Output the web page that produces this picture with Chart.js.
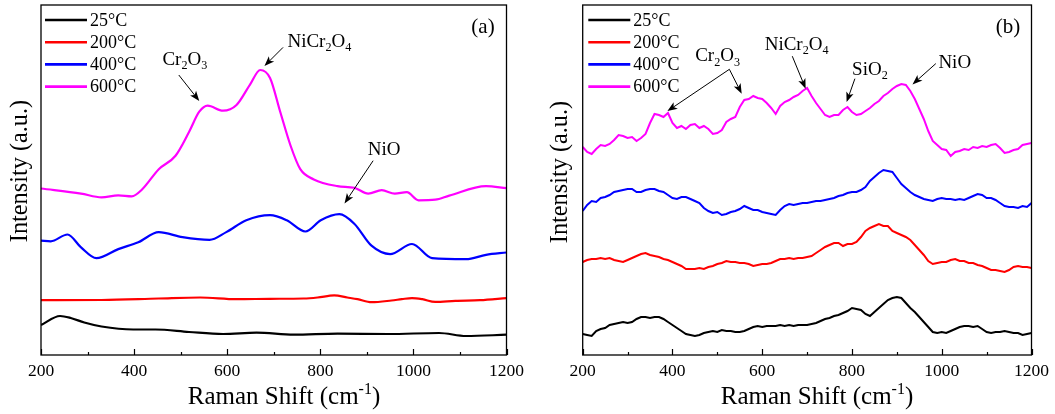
<!DOCTYPE html>
<html>
<head>
<meta charset="utf-8">
<script src="https://cdn.jsdelivr.net/npm/chart.js@4.4.1/dist/chart.umd.min.js"></script>
<style>
  html, body { margin: 0; padding: 0; background: #fff; }
  #wrap { position: relative; width: 1055px; height: 414px; overflow: hidden; }
  #chartA { position: absolute; left: 0; top: 0; }
  #chartB { position: absolute; left: 530px; top: 0; }
</style>
</head>
<body>
<div id="wrap">
  <canvas id="chartA" width="530" height="414"></canvas>
  <canvas id="chartB" width="525" height="414"></canvas>
</div>
<script>
const serif = '"Liberation Serif", "Times New Roman", serif';

// Series names and colours (same for both panels)
const temps = ['25°C', '200°C', '400°C', '600°C'];
const colors = ['#000000', '#ff0000', '#0000ff', '#ff00ff'];

// Raman shift axis ticks
const shiftTicks = [200, 400, 600, 800, 1000, 1200];

// Panel (a): smoothed spectra, [Raman shift, stacked intensity]
const a25 = [[200, 30], [241, 39], [264, 37], [293, 32.5], [330, 28.5], [398, 25.5], [446, 25.5],
  [518, 23], [591, 21], [663, 22.3], [743, 20.3], [837, 21.3], [946, 21], [1055, 22], [1113, 19], [1200, 20.3]];
const a200 = [[200, 54.8], [330, 55], [453, 56.5], [542, 57.5], [620, 55.8], [692, 56.2], [764, 56.5],
  [794, 57.5], [830, 59.6], [858, 57.5], [880, 55.8], [910, 52.8], [953, 54.5], [975, 55.8], [997, 56.9],
  [1019, 55.8], [1047, 53.1], [1090, 54.2], [1143, 54.8], [1200, 56.9]];
const a400 = [[200, 114.4], [221, 113.7], [257, 120.5], [286, 107.6], [319, 96.8], [366, 105.9], [409, 112.7],
  [453, 122.9], [504, 117.8], [562, 115.1], [598, 122.9], [641, 134.7], [692, 139.8], [728, 134.7],
  [768, 123.5], [801, 134.7], [841, 140.8], [873, 131.3], [910, 109.3], [950, 100.9], [997, 111],
  [1040, 96.8], [1113, 95.8], [1156, 100.2], [1200, 102.5]];
const a600 = [[200, 166.5], [286, 161.4], [330, 157.7], [366, 159.7], [395, 158.7], [417, 165.5], [453, 185.8],
  [489, 199.3], [518, 223], [540, 243.3], [558, 249.4], [591, 244.3], [620, 250], [649, 270.4], [671, 285],
  [692, 277], [714, 243], [736, 209.5], [757, 185.8], [786, 175.6], [837, 168.9], [873, 167.2], [903, 161.4],
  [932, 164.8], [960, 161.4], [986, 162.8], [1011, 154.7], [1047, 155.3], [1077, 159.4], [1156, 168.9], [1200, 166.8]];

// Panel (b): raw spectra sampled every 10 cm-1 from 200 to 1200
const shiftB = Array.from({ length: 101 }, (_, i) => 200 + i * 10);
const b25 = [21, 20, 19, 24, 26, 27, 30, 31, 32, 33, 32, 33, 36, 38, 38, 37, 38, 38, 36, 33,
  30, 27, 24, 21, 20, 19, 20, 22, 23, 24, 23, 25, 24, 24, 23, 23, 24, 26, 28, 29,
  28, 29, 29, 29, 30, 29, 30, 29, 30, 30, 30, 31, 32, 34, 36, 37, 39, 40, 42, 44,
  47, 46, 45, 41, 39, 43, 47, 51, 55, 57, 58, 57, 52, 47, 43, 38, 33, 28, 23, 22,
  23, 22, 24, 26, 28, 29, 29, 28, 29, 26, 23, 22, 23, 23, 24, 23, 22, 22, 20, 21, 22];
const b200 = [93, 95, 96, 96, 97, 96, 97, 95, 94, 93, 95, 97, 99, 101, 102, 100, 99, 98, 96, 95,
  93, 91, 89, 86, 86, 86, 87, 86, 88, 89, 91, 92, 94, 93, 93, 92, 92, 91, 89, 90,
  91, 91, 92, 94, 96, 96, 97, 96, 97, 97, 98, 99, 102, 105, 108, 110, 112, 112, 109, 111,
  111, 113, 118, 124, 127, 129, 131, 129, 129, 124, 122, 120, 118, 115, 110, 105, 100, 94, 91, 92,
  93, 93, 95, 96, 94, 94, 92, 92, 90, 89, 87, 85, 85, 84, 83, 85, 88, 89, 88, 88, 87];
const b400 = [144, 150, 154, 153, 157, 158, 160, 163, 164, 165, 166, 166, 163, 163, 165, 166, 166, 164, 163, 160,
  157, 156, 158, 158, 156, 154, 152, 147, 144, 142, 143, 140, 141, 143, 144, 146, 149, 147, 145, 145,
  143, 142, 141, 140, 145, 149, 151, 150, 151, 152, 152, 153, 154, 154, 155, 156, 157, 159, 160, 162,
  163, 163, 165, 168, 174, 178, 182, 185, 184, 183, 177, 171, 167, 163, 160, 158, 156, 155, 154, 156,
  157, 156, 156, 155, 156, 155, 157, 159, 161, 160, 157, 157, 155, 152, 149, 148, 148, 147, 149, 148, 152];
const b600 = [208, 203, 201, 206, 210, 209, 211, 215, 220, 219, 217, 218, 214, 217, 221, 232, 241, 240, 238, 242,
  232, 227, 229, 226, 230, 231, 227, 229, 226, 221, 222, 225, 233, 236, 238, 248, 255, 256, 259, 257,
  256, 252, 247, 241, 249, 253, 255, 258, 260, 264, 267, 259, 252, 246, 240, 238, 240, 240, 245, 248,
  243, 240, 241, 244, 247, 251, 254, 259, 262, 266, 269, 271, 270, 264, 256, 246, 236, 224, 214, 210,
  206, 205, 199, 203, 204, 206, 205, 208, 207, 209, 208, 210, 211, 207, 202, 203, 205, 206, 210, 211, 212];

// Peak assignments: label position and arrows, in data units
const notesA = [
  { text: 'Cr2O3', at: [509, 296], arrows: [[496, 280, 540, 254]] },
  { text: 'NiCr2O4', at: [798, 314], arrows: [[720, 307.6, 680, 289]] },
  { text: 'NiO', at: [937, 206], arrows: [[913.5, 194.3, 852, 151.6]] }
];
const notesB = [
  { text: 'Cr2O3', at: [500.5, 299.8], arrows: [[526.8, 285.7, 388.8, 243.9], [526.8, 285.7, 554.3, 261.3]] },
  { text: 'NiCr2O4', at: [676.6, 311.5], arrows: [[667, 298.8, 696.8, 266.3]] },
  { text: 'SiO2', at: [840, 286.4], arrows: [[806.5, 276.3, 788, 252.9]] },
  { text: 'NiO', at: [1029, 293], arrows: [[986.8, 291.4, 934.8, 270.6]] }
];

function fontOf(size) {
  return size + 'px ' + serif;
}

// Draw text runs centred at (cx, cy); mode 1 = subscript, -1 = superscript
function drawRuns(ctx, runs, cx, cy, size) {
  const small = size * 0.64;
  let total = 0;
  const widths = runs.map(([t, m]) => {
    ctx.font = fontOf(m ? small : size);
    const w = ctx.measureText(t).width;
    total += w;
    return w;
  });
  let px = cx - total / 2;
  const base = cy + size * 0.33;
  ctx.textAlign = 'left';
  ctx.textBaseline = 'alphabetic';
  runs.forEach(([t, m], i) => {
    ctx.font = fontOf(m ? small : size);
    const dy = m === 1 ? size * 0.22 : (m === -1 ? -size * 0.4 : 0);
    ctx.fillText(t, px, base + dy);
    px += widths[i];
  });
}

// Formula text: digits become subscripts
function formulaRuns(text) {
  return text.match(/\d+|\D+/g).map(s => [s, /\d/.test(s) ? 1 : 0]);
}

function drawArrow(ctx, x0, y0, x1, y1) {
  const ang = Math.atan2(y1 - y0, x1 - x0);
  const c = Math.cos(ang), s = Math.sin(ang);
  const len = 10, half = 3.8;
  ctx.beginPath();
  ctx.moveTo(x0, y0);
  ctx.lineTo(x1 - c * len * 0.7, y1 - s * len * 0.7);
  ctx.stroke();
  ctx.beginPath();
  ctx.moveTo(x1, y1);
  ctx.lineTo(x1 - c * len - s * half, y1 - s * len + c * half);
  ctx.lineTo(x1 - c * len * 0.75, y1 - s * len * 0.75);
  ctx.lineTo(x1 - c * len + s * half, y1 - s * len - c * half);
  ctx.closePath();
  ctx.fill();
}

// Frame, inward ticks, legend, panel tag, axis titles and peak labels
const decor = {
  id: 'decor',
  afterDraw(chart, args, opts) {
    const { ctx, chartArea: area } = chart;
    const x = chart.scales.x, y = chart.scales.y;
    ctx.save();
    ctx.strokeStyle = '#000';
    ctx.fillStyle = '#000';

    ctx.lineWidth = 1.3;
    ctx.strokeRect(area.left, area.top, area.right - area.left, area.bottom - area.top);

    ctx.lineWidth = 1.2;
    for (let v = x.min; v <= x.max; v += 100) {
      const px = Math.round(x.getPixelForValue(v)) + 0.5;
      const len = v % 200 === 0 ? 6 : 3;
      ctx.beginPath();
      ctx.moveTo(px, area.bottom);
      ctx.lineTo(px, area.bottom - len);
      ctx.stroke();
    }

    // legend
    chart.data.datasets.forEach((ds, i) => {
      const ly = area.top + 15 + i * 22.2;
      ctx.strokeStyle = ds.borderColor;
      ctx.lineWidth = 2.6;
      ctx.beginPath();
      ctx.moveTo(area.left + opts.legendX, ly);
      ctx.lineTo(area.left + opts.legendX + 42, ly);
      ctx.stroke();
      ctx.fillStyle = '#000';
      ctx.font = fontOf(18);
      ctx.textAlign = 'left';
      ctx.textBaseline = 'middle';
      ctx.fillText(ds.label, area.left + opts.legendX + 45, ly + 1);
    });

    ctx.strokeStyle = '#000';
    ctx.fillStyle = '#000';
    ctx.font = fontOf(21);
    ctx.textAlign = 'center';
    ctx.textBaseline = 'middle';
    ctx.fillText(opts.tag, area.right - 23.5, area.top + 22);

    // peak labels with arrows
    ctx.lineWidth = 1;
    opts.notes.forEach(n => {
      drawRuns(ctx, formulaRuns(n.text), x.getPixelForValue(n.at[0]), y.getPixelForValue(n.at[1]), 19);
      n.arrows.forEach(a => {
        drawArrow(ctx, x.getPixelForValue(a[0]), y.getPixelForValue(a[1]),
          x.getPixelForValue(a[2]), y.getPixelForValue(a[3]));
      });
    });

    // axis titles
    drawRuns(ctx, [['Raman Shift (cm', 0], ['-1', -1], [')', 0]], opts.xTitle[0], opts.xTitle[1], 25);
    ctx.translate(opts.yTitle[0], opts.yTitle[1]);
    ctx.rotate(-Math.PI / 2);
    drawRuns(ctx, [['Intensity (a.u.)', 0]], 0, 0, 24.3);
    ctx.restore();
  }
};

function pairs(xs, ys) {
  return xs.map((v, i) => ({ x: v, y: ys[i] }));
}

function makeChart(canvasId, series, smooth, pad, decorOpts) {
  return new Chart(document.getElementById(canvasId), {
    type: 'line',
    data: {
      datasets: series.map((pts, i) => ({
        label: temps[i],
        data: pts,
        borderColor: colors[i],
        borderWidth: smooth ? 2.2 : 2,
        pointRadius: 0,
        fill: false,
        tension: smooth ? 0.4 : 0,
        cubicInterpolationMode: smooth ? 'monotone' : 'default'
      }))
    },
    options: {
      responsive: false,
      animation: false,
      events: [],
      layout: { padding: pad },
      plugins: {
        legend: { display: false },
        tooltip: { enabled: false },
        decor: decorOpts
      },
      scales: {
        x: {
          type: 'linear',
          min: 200,
          max: 1200,
          afterBuildTicks: s => { s.ticks = shiftTicks.map(v => ({ value: v })); },
          ticks: {
            color: '#000',
            font: { family: serif, size: 17.5 },
            padding: 6,
            maxRotation: 0,
            autoSkip: false,
            callback: v => String(v)
          },
          grid: { display: false, drawTicks: false },
          border: { display: false },
          afterFit: s => { s.height = 59; }
        },
        y: { display: false, min: 0, max: 350 }
      }
    },
    plugins: [decor]
  });
}

makeChart('chartA', [a25, a200, a400, a600].map(s => s.map(p => ({ x: p[0], y: p[1] }))), true,
  { left: 41, right: 22.3, top: 5, bottom: 0 },
  { tag: '(a)', notes: notesA, legendX: 4, xTitle: [284, 396], yTitle: [19, 171] });

makeChart('chartB', [b25, b200, b400, b600].map(s => pairs(shiftB, s)), false,
  { left: 52.7, right: 21, top: 5, bottom: 0 },
  { tag: '(b)', notes: notesB, legendX: 5.6, xTitle: [287, 396], yTitle: [29.3, 172] });
</script>
</body>
</html>
